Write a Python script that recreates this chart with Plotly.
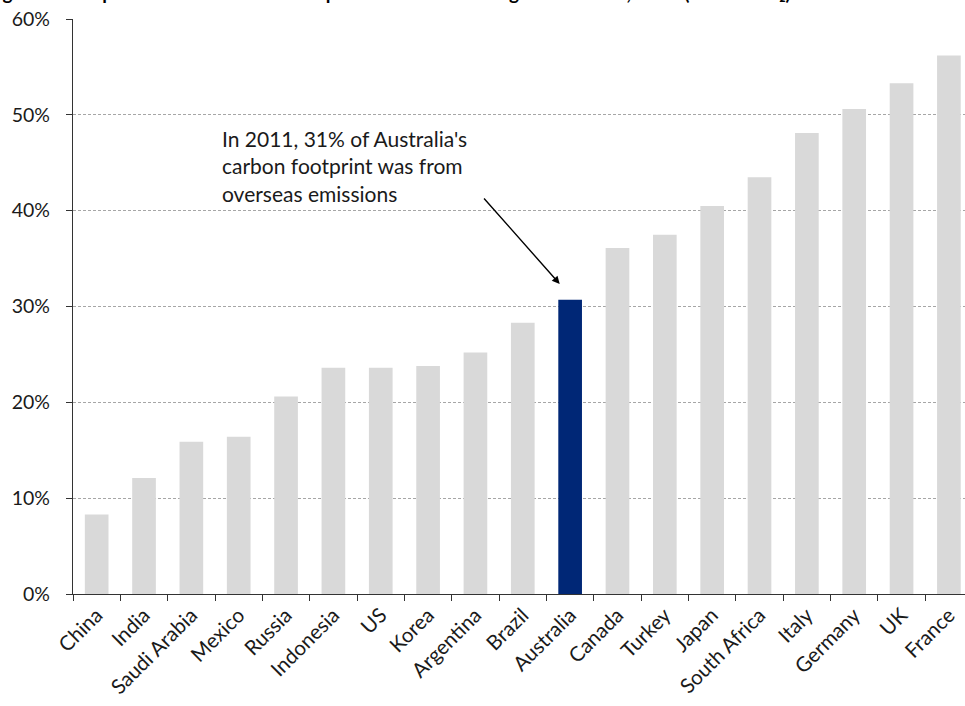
import plotly.graph_objects as go

countries = ["China", "India", "Saudi Arabia", "Mexico", "Russia", "Indonesia", "US",
             "Korea", "Argentina", "Brazil", "Australia", "Canada", "Turkey", "Japan",
             "South Africa", "Italy", "Germany", "UK", "France"]
import_share = [8.3, 12.1, 15.9, 16.4, 20.6, 23.6, 23.6, 23.8, 25.2, 28.3, 30.7,
                36.1, 37.5, 40.5, 43.5, 48.1, 50.6, 53.3, 56.2]
highlight = "Australia"
y_ticks = [0, 10, 20, 30, 40, 50, 60]

GREY = "#D9D9D9"
NAVY = "#002776"
FONT = "Lato"

colors = [NAVY if c == highlight else GREY for c in countries]

fig = go.Figure(go.Bar(
    x=countries, y=import_share, marker_color=colors, marker_line_width=0,
    width=0.5, showlegend=False,
))

fig.update_layout(
    width=965, height=706,
    margin=dict(l=73, r=0, t=19, b=112),
    paper_bgcolor="white", plot_bgcolor="white",
    font=dict(family=FONT, size=20, color="#1a1a1a"),
)

fig.update_xaxes(
    type="category", range=[-0.5, 18.34],
    showline=True, linecolor="#333333", linewidth=1.3,
    ticks="outside", tickson="boundaries", ticklen=6, tickcolor="#333333", tickwidth=1.3,
    tickangle=-45, showgrid=False, tickfont=dict(size=20.5),
)
fig.update_yaxes(
    range=[0, 60], tickvals=y_ticks, ticktext=[f"{v}%" for v in y_ticks],
    showline=True, linecolor="#333333", linewidth=1.3,
    ticks="outside", ticklen=6, tickcolor="#333333", tickwidth=1.3,
    showgrid=True, gridcolor="#A6A6A6", gridwidth=1, griddash="3px,2px",
    zeroline=False, tickfont=dict(size=19.5), ticklabelstandoff=12,
)

# Chart title, running off the top edge
fig.add_annotation(
    xref="paper", yref="paper", x=0, y=1, xanchor="left", yanchor="bottom",
    xshift=-88, yshift=13, showarrow=False, align="left",
    text="<b>Figure 2.4: Imports as a share of consumption emissions among G20 nations, 2011 (tonnes CO₂)</b>",
    font=dict(family=FONT, size=19, color="black"),
)

# Callout for the highlighted bar
fig.add_annotation(
    xref="paper", yref="y", x=(220 - 73) / 892, y=49.0, xanchor="left", yanchor="top",
    showarrow=False, align="left",
    text="In 2011, 31% of Australia's<br>carbon footprint was from<br>overseas emissions",
    font=dict(family=FONT, size=21, color="#1a1a1a"),
)
fig.add_annotation(
    x=9.78, y=32.35, ax=-77, ay=-87,
    showarrow=True, arrowhead=2, arrowsize=1.1, arrowwidth=1.4, arrowcolor="black",
    text="",
)

fig.write_html("out.html")
